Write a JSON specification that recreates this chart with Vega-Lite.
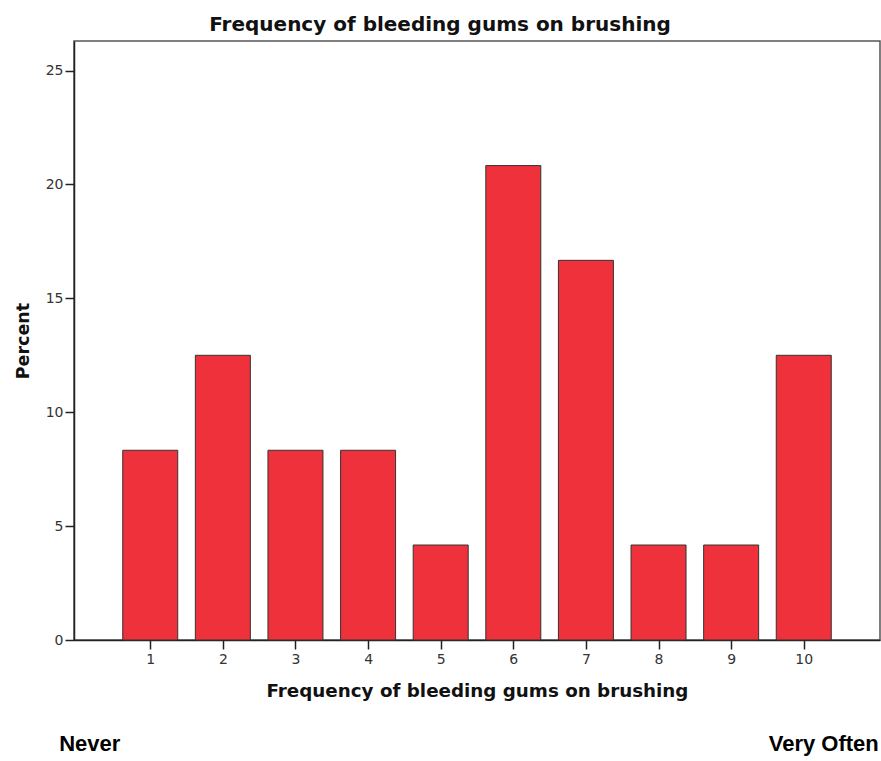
{
  "$schema": "https://vega.github.io/schema/vega-lite/v6.json",
  "width": 806,
  "height": 599,
  "autosize": "none",
  "padding": {"left": 74, "top": 41, "right": 1, "bottom": 121},
  "background": "white",
  "config": {
    "view": {"stroke": "#555555", "strokeWidth": 1.5},
    "axis": {"grid": false}
  },
  "title": {
    "text": "Frequency of bleeding gums on brushing",
    "font": "DejaVu Sans",
    "fontSize": 20,
    "fontWeight": "bold",
    "color": "#111111",
    "anchor": "middle",
    "dx": -37,
    "offset": 6
  },
  "data": {
    "values": [
      {"rating": 1, "percent": 8.33},
      {"rating": 2, "percent": 12.5},
      {"rating": 3, "percent": 8.33},
      {"rating": 4, "percent": 8.33},
      {"rating": 5, "percent": 4.17},
      {"rating": 6, "percent": 20.83},
      {"rating": 7, "percent": 16.67},
      {"rating": 8, "percent": 4.17},
      {"rating": 9, "percent": 4.17},
      {"rating": 10, "percent": 12.5}
    ]
  },
  "layer": [
    {
      "mark": {"type": "bar", "size": 55, "color": "#EF313B", "stroke": "#333333", "strokeWidth": 1},
      "encoding": {
        "x": {
          "field": "rating",
          "type": "quantitative",
          "scale": {"domain": [-0.05, 11.05], "nice": false, "zero": false, "padding": 0},
          "axis": {
            "orient": "bottom",
            "values": [1, 2, 3, 4, 5, 6, 7, 8, 9, 10],
            "title": "Frequency of bleeding gums on brushing",
            "titleFont": "DejaVu Sans",
            "titleFontSize": 18.3,
            "titleFontWeight": "bold",
            "titleColor": "#111111",
            "titlePadding": 16,
            "labelFont": "DejaVu Sans",
            "labelFontSize": 14,
            "labelColor": "#333333",
            "labelFlush": false,
            "labelPadding": 3,
            "tickSize": 9,
            "tickColor": "#222222",
            "tickWidth": 1.5,
            "domainColor": "#222222",
            "domainWidth": 1.5
          }
        },
        "y": {
          "field": "percent",
          "type": "quantitative",
          "scale": {"domain": [0, 26.3], "nice": false, "zero": true},
          "axis": {
            "values": [0, 5, 10, 15, 20, 25],
            "title": "Percent",
            "titleFont": "DejaVu Sans",
            "titleFontSize": 17.5,
            "titleFontWeight": "bold",
            "titleColor": "#111111",
            "titlePadding": 13,
            "labelFont": "DejaVu Sans",
            "labelFontSize": 14,
            "labelColor": "#333333",
            "labelPadding": 2,
            "tickSize": 9,
            "tickColor": "#222222",
            "tickWidth": 1.5,
            "domainColor": "#222222",
            "domainWidth": 1.5
          }
        }
      }
    },
    {
      "data": {"values": [{"end": "Never", "at": 0}, {"end": "Very Often", "at": 11}]},
      "mark": {"type": "text", "text": ""},
      "encoding": {
        "x": {
          "field": "at",
          "type": "quantitative",
          "scale": {"domain": [-0.05, 11.05], "nice": false, "zero": false, "padding": 0},
          "axis": {
            "orient": "bottom",
            "values": [-0.04, 11.04],
            "labelExpr": "datum.value < 5 ? 'Never' : 'Very Often'",
            "labelAlign": {"condition": {"test": "datum.value < 5", "value": "left"}, "value": "right"},
            "labelOffset": {"condition": {"test": "datum.value < 5", "value": -16}, "value": -1},
            "labelFlush": false,
            "labelOverlap": false,
            "labelFont": "Liberation Sans",
            "labelFontSize": 22,
            "labelFontWeight": "bold",
            "labelColor": "#000000",
            "labelPadding": 0,
            "domain": false,
            "ticks": false,
            "title": null,
            "offset": 93
          }
        }
      }
    }
  ],
  "resolve": {"axis": {"x": "independent"}}
}
